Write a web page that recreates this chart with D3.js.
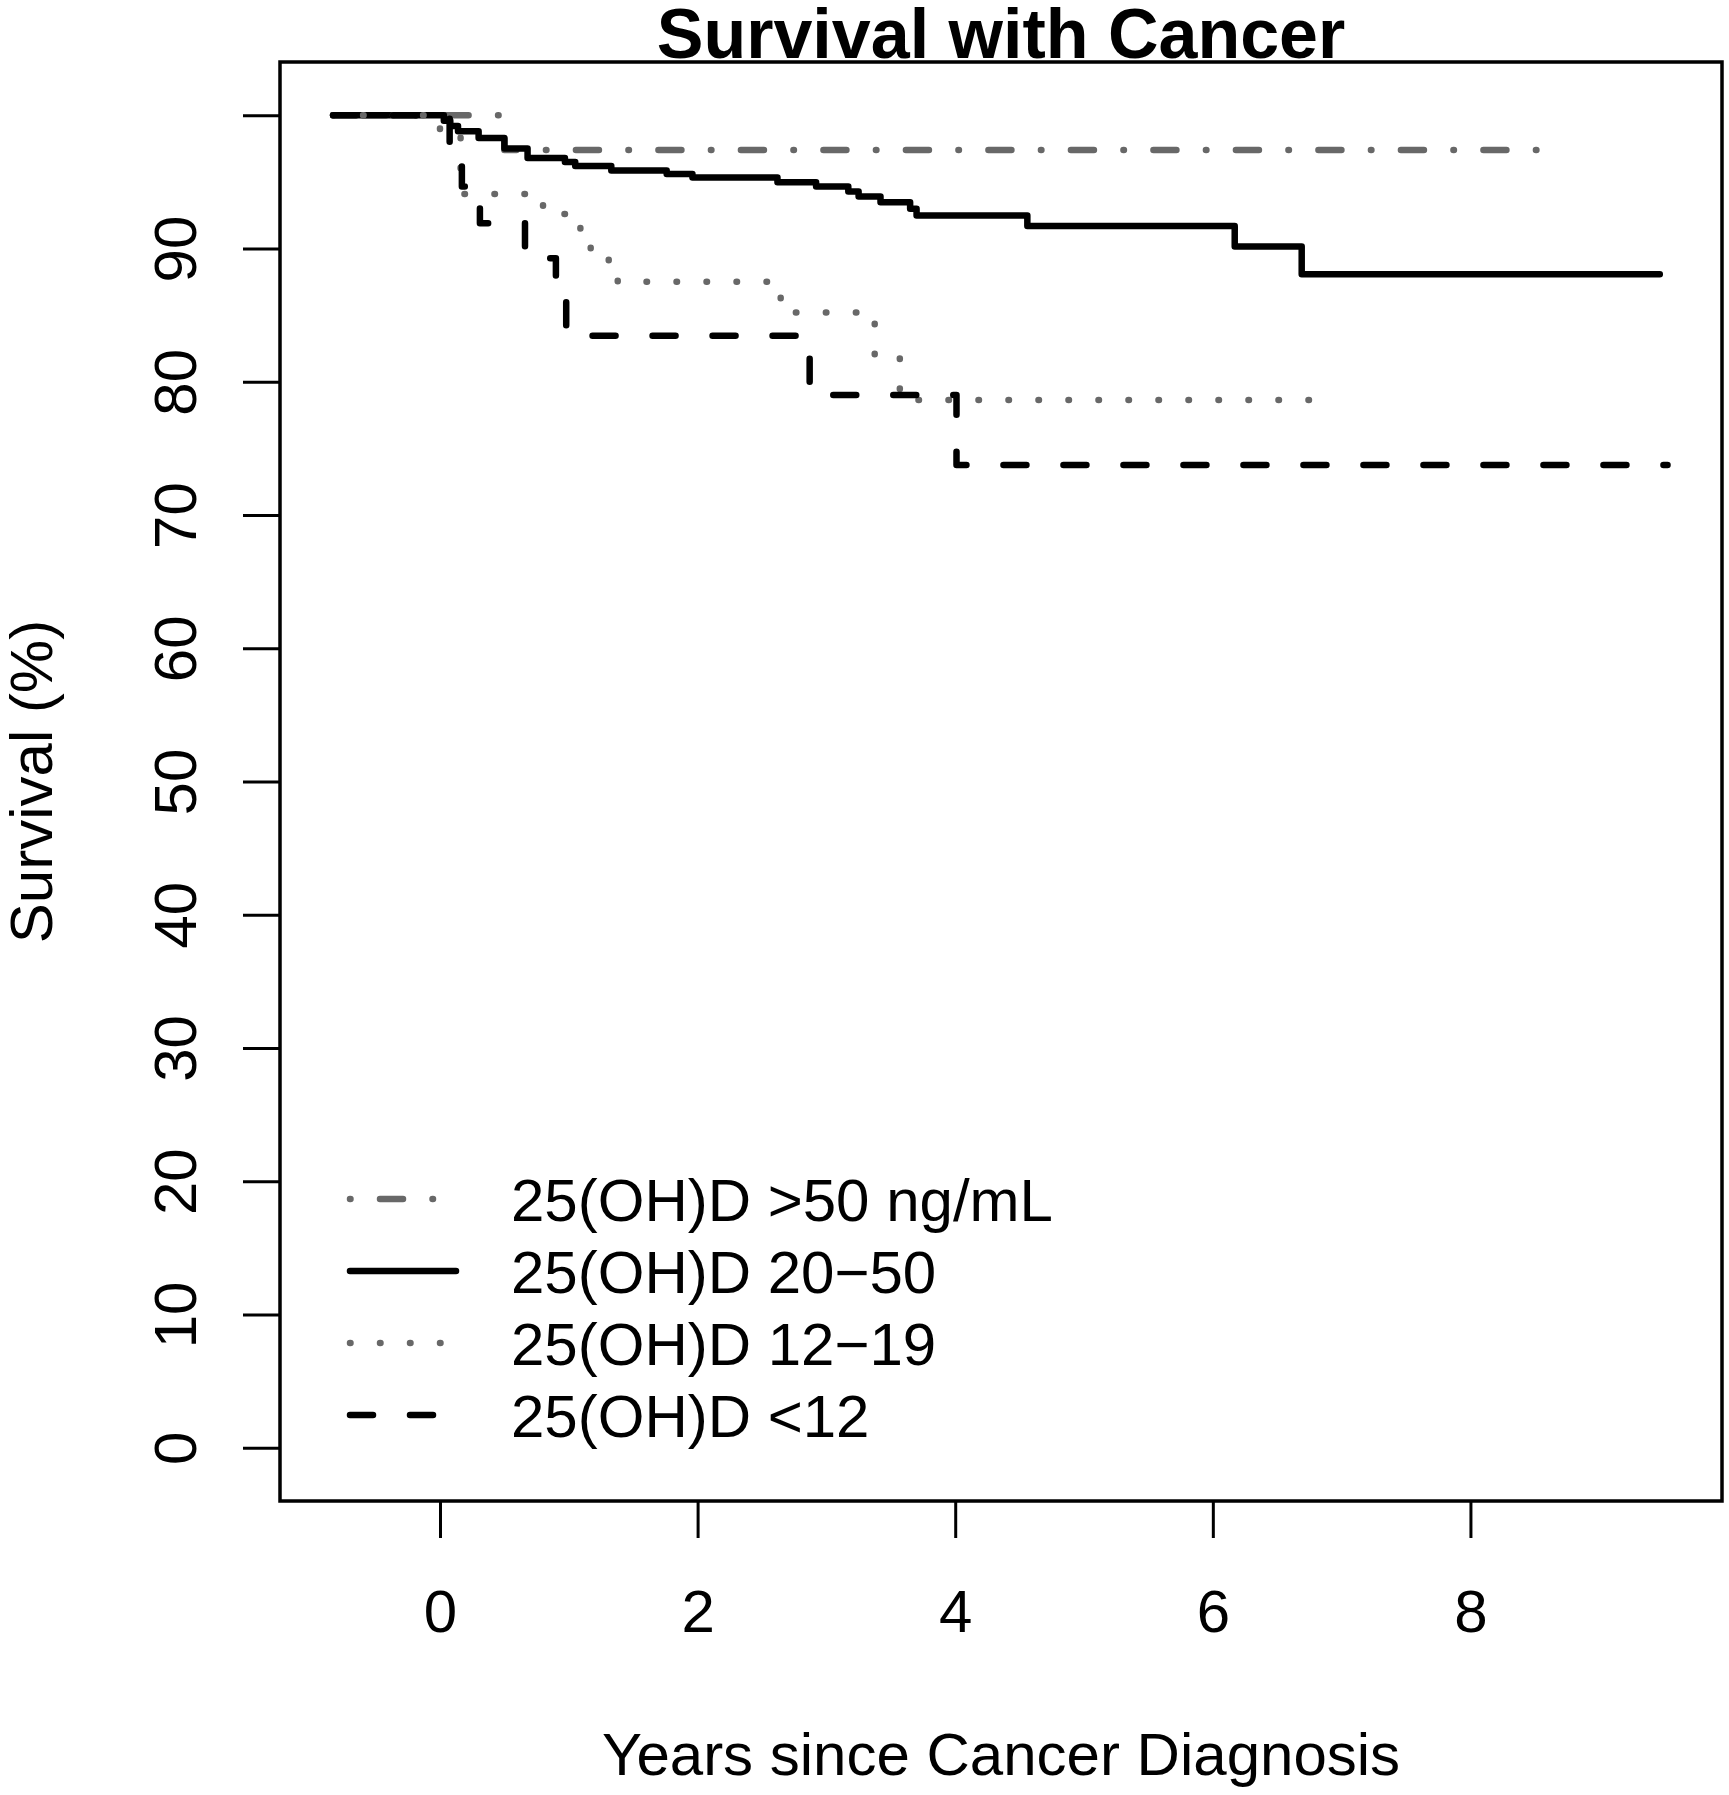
<!DOCTYPE html>
<html>
<head>
<meta charset="utf-8">
<script src="https://cdn.jsdelivr.net/npm/d3@7"></script>
<style>
  html, body { margin: 0; padding: 0; background: #ffffff; }
  svg { display: block; }
  text { font-family: "Liberation Sans", Arial, Helvetica, sans-serif; fill: #000; }
</style>
</head>
<body>
<svg id="chart" width="1729" height="1795"></svg>
<script>
// ---------------- DATA (Kaplan–Meier step curves) ----------------
// Group 25(OH)D >50 ng/mL
const time_gt50 = [-0.83, 0.50, 8.60];
const surv_gt50 = [100, 97.4, 97.4];

// Group 25(OH)D 20–50
const time_20_50 = [-0.83, 0.03, 0.08, 0.14, 0.30, 0.50, 0.68, 0.97, 1.05, 1.33, 1.76, 1.96, 2.62, 2.92, 3.17, 3.25, 3.42, 3.65, 3.70, 4.56, 6.17, 6.69, 9.47];
const surv_20_50 = [100, 99.6, 99.2, 98.8, 98.3, 97.5, 96.8, 96.5, 96.2, 95.85, 95.6, 95.33, 94.98, 94.66, 94.28, 93.9, 93.48, 92.98, 92.48, 91.7, 90.15, 88.07, 88.07];

// Group 25(OH)D 12–19
const time_12_19 = [-0.83, 0.00, 0.16, 0.80, 1.09, 1.17, 1.31, 1.38, 2.645, 3.375, 3.57, 6.80];
const surv_12_19 = [100, 98.8, 94.1, 92.6, 91.0, 90.0, 89.1, 87.5, 85.2, 81.74, 78.64, 78.64];

// Group 25(OH)D <12
const time_lt12 = [-0.83, 0.075, 0.17, 0.31, 0.66, 0.90, 0.98, 2.87, 4.01, 9.53];
const surv_lt12 = [100, 97.0, 94.65, 91.9, 89.28, 87.05, 83.45, 79.0, 73.76, 73.76];

const legendLabels = ["25(OH)D >50 ng/mL", "25(OH)D 20\u221250", "25(OH)D 12\u221219", "25(OH)D <12"];
const xTicks = [0, 2, 4, 6, 8];
const yTicks = [0, 10, 20, 30, 40, 50, 60, 70, 80, 90, 100];
const yTickLabels = ["0", "10", "20", "30", "40", "50", "60", "70", "80", "90", ""];
const titleText = "Survival with Cancer";
const xTitle = "Years since Cancer Diagnosis";
const yTitle = "Survival (%)";

// ---------------- STYLES ----------------
const GRAY = "#686868";
const LW = 6.5;
const seriesStyles = [
  { color: GRAY,   dash: "0.5,29.5,23,29.5" },   // dot-dash
  { color: "#000", dash: null },                 // solid
  { color: GRAY,   dash: "0.5,29.5" },           // dotted
  { color: "#000", dash: "23,37" }               // dashed
];

const series = [
  { t: time_gt50,  s: surv_gt50 },
  { t: time_20_50, s: surv_20_50 },
  { t: time_12_19, s: surv_12_19 },
  { t: time_lt12,  s: surv_lt12 }
];

// ---------------- LAYOUT ----------------
const box = { left: 280, right: 1722, top: 62, bottom: 1501 };

const x = d3.scaleLinear().domain([-1.242, 9.953]).range([box.left, box.right]);
const y = d3.scaleLinear().domain([-4, 104]).range([box.bottom, box.top]);

const svg = d3.select("#chart");

// curves
const line = d3.line()
  .x(d => x(d[0]))
  .y(d => y(d[1]))
  .curve(d3.curveStepAfter);

series.forEach((sr, i) => {
  const pts = sr.t.map((tv, k) => [tv, sr.s[k]]);
  const st = seriesStyles[i];
  svg.append("path")
    .datum(pts)
    .attr("d", line)
    .attr("fill", "none")
    .attr("stroke", st.color)
    .attr("stroke-width", LW)
    .attr("stroke-linecap", "round")
    .attr("stroke-linejoin", "round")
    .attr("stroke-dasharray", st.dash);
});

// box
svg.append("rect")
  .attr("x", box.left).attr("y", box.top)
  .attr("width", box.right - box.left)
  .attr("height", box.bottom - box.top)
  .attr("fill", "none")
  .attr("stroke", "#000")
  .attr("stroke-width", 3.5);

// y axis
const yAxis = d3.axisLeft(y)
  .tickValues(yTicks)
  .tickSize(37)
  .tickFormat((d, i) => yTickLabels[i]);
const gy = svg.append("g")
  .attr("transform", `translate(${box.left},0)`)
  .call(yAxis);
gy.select(".domain").remove();
gy.selectAll(".tick line").attr("stroke", "#000").attr("stroke-width", 3);
gy.selectAll(".tick text")
  .attr("x", null).attr("dy", null)
  .attr("text-anchor", "middle")
  .attr("transform", "translate(-84,0) rotate(-90)")
  .style("font-size", "60px")
  .style("font-family", "'Liberation Sans', Arial, Helvetica, sans-serif")
  .attr("fill", "#000");

// x axis
const xAxis = d3.axisBottom(x)
  .tickValues(xTicks)
  .tickSize(37)
  .tickFormat(d3.format("d"));
const gx = svg.append("g")
  .attr("transform", `translate(0,${box.bottom})`)
  .call(xAxis);
gx.select(".domain").remove();
gx.selectAll(".tick line").attr("stroke", "#000").attr("stroke-width", 3);
gx.selectAll(".tick text")
  .attr("y", 131).attr("dy", null)
  .attr("text-anchor", "middle")
  .style("font-size", "60px")
  .style("font-family", "'Liberation Sans', Arial, Helvetica, sans-serif")
  .attr("fill", "#000");

// title
svg.append("text")
  .attr("x", (box.left + box.right) / 2)
  .attr("y", 58)
  .attr("text-anchor", "middle")
  .style("font-size", "70px")
  .style("font-weight", "bold")
  .text(titleText);

// x title
svg.append("text")
  .attr("x", (box.left + box.right) / 2)
  .attr("y", 1775)
  .attr("text-anchor", "middle")
  .style("font-size", "60px")
  .text(xTitle);

// y title
svg.append("text")
  .attr("transform", `translate(52,${(box.top + box.bottom) / 2}) rotate(-90)`)
  .attr("text-anchor", "middle")
  .style("font-size", "60px")
  .text(yTitle);

// legend
const legendRowY = [1199, 1271, 1343, 1415];
const legend = svg.append("g");
legendLabels.forEach((lab, i) => {
  const st = seriesStyles[i];
  legend.append("line")
    .attr("x1", 350).attr("x2", 456)
    .attr("y1", legendRowY[i]).attr("y2", legendRowY[i])
    .attr("stroke", st.color)
    .attr("stroke-width", LW)
    .attr("stroke-linecap", "round")
    .attr("stroke-dasharray", st.dash);
  legend.append("text")
    .attr("x", 511)
    .attr("y", legendRowY[i] + 22)
    .style("font-size", "60px")
    .text(lab);
});
</script>
</body>
</html>
